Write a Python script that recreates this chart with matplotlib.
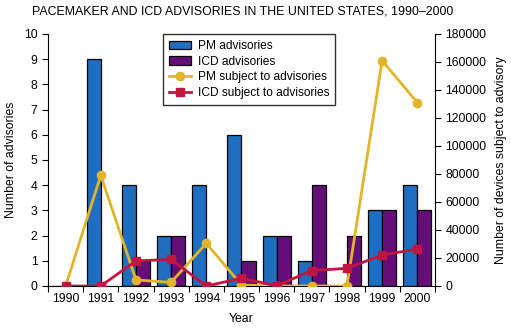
import matplotlib
matplotlib.use("Agg")
import matplotlib.pyplot as plt
import numpy as np

plt.rcParams['font.family'] = ['Liberation Sans', 'DejaVu Sans']
plt.rcParams['font.size'] = 8.8

years = ["1990", "1991", "1992", "1993", "1994", "1995", "1996", "1997", "1998", "1999", "2000"]
pm_advisories = [0, 9, 4, 2, 4, 6, 2, 1, 0, 3, 4]
icd_advisories = [0, 0, 1, 2, 0, 1, 2, 4, 2, 3, 3]
pm_devices = [0, 79000, 4300, 2600, 30500, 700, 0, 0, 0, 161000, 131000]
icd_devices = [0, 0, 17900, 19000, 0, 5500, 200, 11000, 12600, 22100, 26400]

blue = "#1f6ec0"
purple = "#660e78"
yellow = "#e2b42a"
red = "#bf1540"

fig = plt.figure(figsize=(5.11, 3.32), dpi=100)
ax = fig.add_axes([0.094, 0.1386, 0.757, 0.759])
x = np.arange(len(years)) + 0.5
w = 0.4

ax.bar(x - w / 2, pm_advisories, w, color=blue, edgecolor="black", linewidth=0.9, label="PM advisories")
ax.bar(x + w / 2, icd_advisories, w, color=purple, edgecolor="black", linewidth=0.9, label="ICD advisories")
ax.set_xlim(0, len(years))
ax.set_ylim(0, 10)
ax.set_yticks(range(0, 11))
ax.set_xticks(np.arange(len(years) + 1))
ax.set_xticklabels([])
ax.set_xticks(x, minor=True)
ax.set_xticklabels(years, minor=True)
ax.tick_params(axis="x", which="minor", length=0, pad=5)
ax.tick_params(axis="x", which="major", length=4)
ax.tick_params(axis="y", length=4)
ax.spines["top"].set_visible(False)
ax.spines["right"].set_visible(False)
ax.set_ylabel("Number of advisories", fontsize=8.8, labelpad=5)
ax.set_xlabel("Year", fontsize=8.8, labelpad=6)

ax2 = ax.twinx()
ax2.plot(x, pm_devices, color=yellow, lw=2, marker="o", ms=6, label="PM subject to advisories", zorder=3)
ax2.plot(x, icd_devices, color=red, lw=2, marker="s", ms=6, label="ICD subject to advisories", zorder=4)
ax2.set_ylim(0, 180000)
ax2.set_yticks(range(0, 180001, 20000))
ax2.spines["top"].set_visible(False)
ax2.spines["left"].set_visible(False)
ax2.spines["bottom"].set_visible(False)
ax2.tick_params(axis="y", length=4)
ax2.set_ylabel("Number of devices subject to advisory", fontsize=8.8, labelpad=6)

h1, l1 = ax.get_legend_handles_labels()
h2, l2 = ax2.get_legend_handles_labels()
leg = ax2.legend(h1 + h2, l1 + l2, loc="upper left", bbox_to_anchor=(0.298, 1.0),
                 borderaxespad=0.0, fontsize=8.6, frameon=True, fancybox=False,
                 edgecolor="black", handlelength=1.8, handletextpad=0.6,
                 borderpad=0.5, labelspacing=0.3)
leg.get_frame().set_linewidth(1.0)

fig.text(0.475, 0.965, "PACEMAKER AND ICD ADVISORIES IN THE UNITED STATES, 1990\u20132000",
         ha="center", va="center", fontsize=8.9)

fig.savefig("out.png", dpi=100)
